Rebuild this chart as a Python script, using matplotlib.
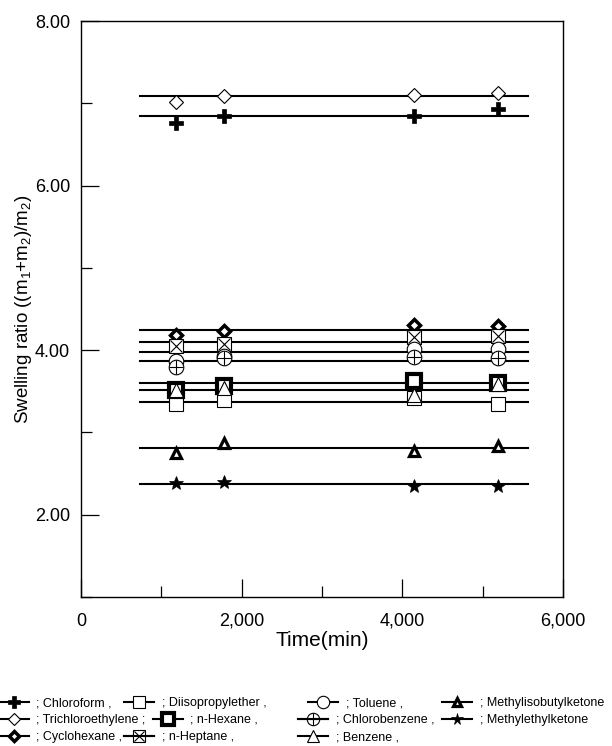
import matplotlib
matplotlib.use("Agg")
import matplotlib.pyplot as plt
from matplotlib.lines import Line2D
from matplotlib.ticker import MultipleLocator, FuncFormatter

plt.rcParams['font.family'] = ['Liberation Sans', 'DejaVu Sans']
plt.rcParams['mathtext.default'] = 'regular'

# ---- data ----
times = [1180, 1780, 4150, 5190]          # min

chloroform        = [6.76, 6.84, 6.84, 6.93]
trichloroethylene = [7.01, 7.09, 7.10, 7.12]
cyclohexane       = [4.18, 4.23, 4.31, 4.29]
diisopropylether  = [3.35, 3.39, 3.42, 3.34]
n_hexane          = [3.51, 3.56, 3.62, 3.60]
n_heptane         = [4.05, 4.08, 4.16, 4.17]
toluene           = [3.87, 3.93, 4.02, 4.02]
chlorobenzene     = [3.80, 3.91, 3.92, 3.90]
benzene           = [3.51, 3.54, 3.45, 3.59]
mibk              = [2.75, 2.87, 2.77, 2.84]
mek               = [2.38, 2.40, 2.35, 2.35]

# horizontal fitted level for each solvent (same order as below)
levels = [6.84, 7.09, 4.24, 3.37, 3.60, 4.10, 3.98, 3.87, 3.51, 2.81, 2.37]
line_span = [730, 5560]

legend_labels = ["; Chloroform ,", "; Trichloroethylene ;", "; Cyclohexane ,",
                 "; Diisopropylether ,", "; n-Hexane ,", "; n-Heptane ,",
                 "; Toluene ,", "; Chlorobenzene ,", "; Benzene ,",
                 "; Methylisobutylketone", "; Methylethylketone"]
series = [chloroform, trichloroethylene, cyclohexane,
          diisopropylether, n_hexane, n_heptane,
          toluene, chlorobenzene, benzene, mibk, mek]

# marker styles: list of layers drawn on top of each other
W = 'white'
K = 'black'
styles = [
    [dict(marker='P', ms=10.5, mfc=K, mec=K, mew=0.5)],
    [dict(marker='D', ms=7, mfc=W, mec=K, mew=0.8)],
    [dict(marker='D', ms=6, mfc=W, mec=K, mew=2.5)],
    [dict(marker='s', ms=10, mfc=W, mec=K, mew=0.8)],
    [dict(marker='s', ms=10, mfc=W, mec=K, mew=3.0)],
    [dict(marker='s', ms=10, mfc=W, mec=K, mew=0.8),
     dict(marker='x', ms=9, mfc='none', mec=K, mew=0.8)],
    [dict(marker='o', ms=10.5, mfc=W, mec=K, mew=0.8)],
    [dict(marker='o', ms=10.5, mfc=W, mec=K, mew=0.8),
     dict(marker='+', ms=10.5, mfc='none', mec=K, mew=0.8)],
    [dict(marker='^', ms=10, mfc=W, mec=K, mew=0.8)],
    [dict(marker='^', ms=7.5, mfc=W, mec=K, mew=2.3)],
    [dict(marker='*', ms=10, mfc=K, mec=K, mew=0.5)],
]

fig = plt.figure(figsize=(6.12, 7.46), dpi=100)
ax = fig.add_axes([0.1324, 0.1997, 0.7876, 0.7721])

handles = []
for vals, lvl, st in zip(series, levels, styles):
    ax.plot(line_span, [lvl, lvl], color='black', lw=1.5, zorder=2)
    for layer in st:
        ax.plot(times, vals, linestyle='none', zorder=3, **layer)
    h = tuple(Line2D([], [], color='black', lw=1.5,
                     **dict(layer, ms=layer['ms'] * 0.85)) for layer in st)
    handles.append(h)

ax.set_xlim(0, 6000)
ax.set_ylim(1, 8)
ax.xaxis.set_major_locator(MultipleLocator(2000))
ax.xaxis.set_minor_locator(MultipleLocator(1000))
ax.yaxis.set_major_locator(MultipleLocator(2))
ax.yaxis.set_minor_locator(MultipleLocator(1))
ax.xaxis.set_major_formatter(FuncFormatter(lambda v, p: f"{v:,.0f}"))
ax.yaxis.set_major_formatter(FuncFormatter(lambda v, p: f"{v:.2f}"))
ax.tick_params(which='both', direction='in', top=False, right=False,
               labelsize=13, width=0.9)
ax.tick_params(which='major', length=13)
ax.tick_params(which='minor', length=8)
ax.tick_params(axis='x', which='major', pad=11.5)
ax.tick_params(axis='y', which='major', pad=8)
for sp in ax.spines.values():
    sp.set_linewidth(1.0)

ax.set_xlabel("Time(min)", fontsize=15, labelpad=1)
ax.set_ylabel("Swelling ratio ((m$_1$+m$_2$)/m$_2$)", fontsize=13.5)
ax.yaxis.set_label_coords(-0.097, 0.5)

# legend laid out like lines of text under the plot:
# (left edge of handle in px, row centre in px) for each entry
W_PX, H_PX = 612.0, 746.0
entry_x = [-1, -1, -1, 124, 153, 124, 308, 298, 298, 442, 442]
entry_row = [0, 1, 2, 0, 1, 2, 0, 1, 2, 0, 1]
row_y = [703, 720, 737]
for h, lab, ex, r in zip(handles, legend_labels, entry_x, entry_row):
    fig.legend([h], [lab], loc='center left',
               bbox_to_anchor=(ex / W_PX, 1 - row_y[r] / H_PX),
               frameon=False, fontsize=9, borderpad=0, borderaxespad=0,
               handlelength=2.4, handletextpad=0.6)

fig.savefig("out.png", dpi=100)
